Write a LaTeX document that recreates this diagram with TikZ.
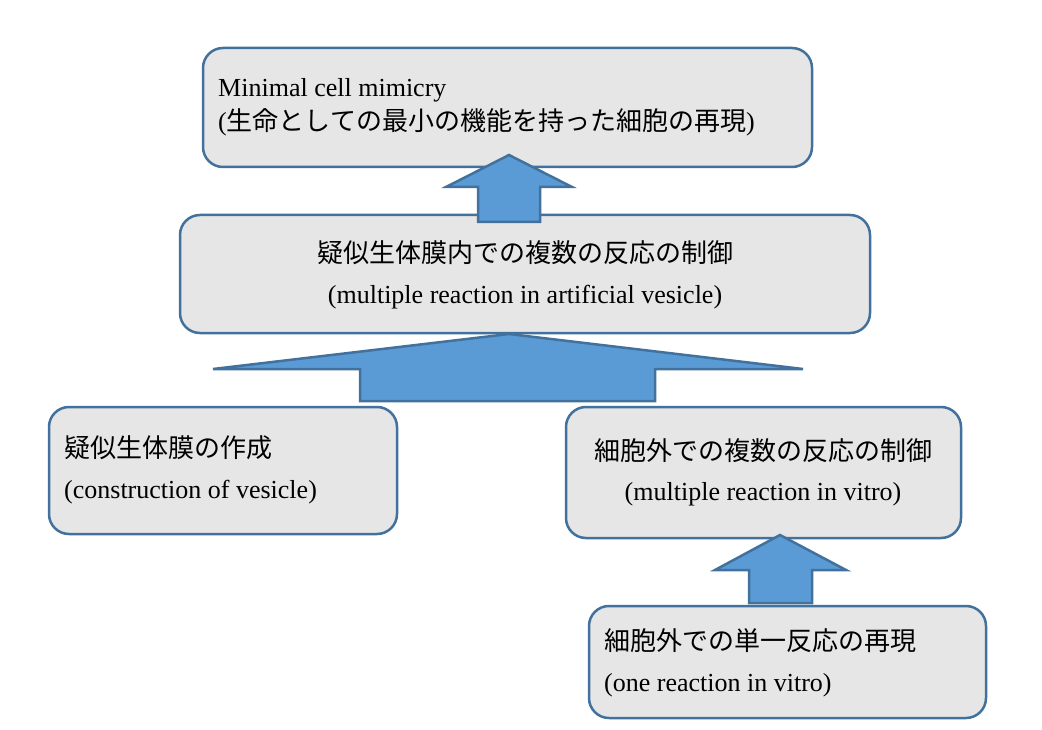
\documentclass[tikz,border=0pt]{standalone}
\usepackage{fontspec}
\setmainfont{Liberation Serif}
\newfontfamily\cjk{Noto Sans CJK JP}
\definecolor{bordc}{HTML}{41719C}
\definecolor{boxf}{HTML}{E7E6E6}
\definecolor{arrf}{HTML}{5B9BD5}
\tikzset{
  box/.style={draw=bordc, fill=boxf, line width=2.5pt, rounded corners=20pt},
  blockarrow/.style={draw=bordc, fill=arrf, line width=2.5pt, line join=miter},
  txt/.style={inner sep=0pt, font=\fontsize{26pt}{30pt}\selectfont, text=black}
}
\begin{document}
\begin{tikzpicture}[x=1pt,y=-1pt]
\useasboundingbox (0,0) rectangle (1042,730);
% boxes
\draw[box] (203,48) rectangle (812,167);
\draw[box] (180,215) rectangle (870,333);
\draw[box] (49,407) rectangle (397,534);
\draw[box] (566,407) rectangle (961,538);
\draw[box] (589,606) rectangle (986,718);
% block arrows
\draw[blockarrow] (509,155) -- (572,187) -- (540,187) -- (540,222) -- (478,222) -- (478,187) -- (446,187) -- cycle;
\draw[blockarrow] (509,334) -- (803,369) -- (655,369) -- (655,401) -- (360,401) -- (360,369) -- (213,369) -- cycle;
\draw[blockarrow] (780,535) -- (846,570) -- (812,570) -- (812,603) -- (749,603) -- (749,570) -- (715,570) -- cycle;
% texts
\node[txt, anchor=base west] (t1a) at (218,97) {Minimal cell mimicry};
\node[txt, anchor=base west] (t1b) at (218,131) {({\cjk 生命としての最小の機能を持った細胞の再現})};
\node[txt, anchor=base] (t2a) at (525,263) {\cjk 疑似生体膜内での複数の反応の制御};
\node[txt, anchor=base] (t2b) at (525,304) {(multiple reaction in artificial vesicle)};
\node[txt, anchor=base west] (t3a) at (64,457) {\cjk 疑似生体膜の作成};
\node[txt, anchor=base west] (t3b) at (64,498) {(construction of vesicle)};
\node[txt, anchor=base] (t4a) at (763,460) {\cjk 細胞外での複数の反応の制御};
\node[txt, anchor=base] (t4b) at (763,500) {(multiple reaction in vitro)};
\node[txt, anchor=base west] (t5a) at (604,650) {\cjk 細胞外での単一反応の再現};
\node[txt, anchor=base west] (t5b) at (604,691) {(one reaction in vitro)};
\end{tikzpicture}
\end{document}
